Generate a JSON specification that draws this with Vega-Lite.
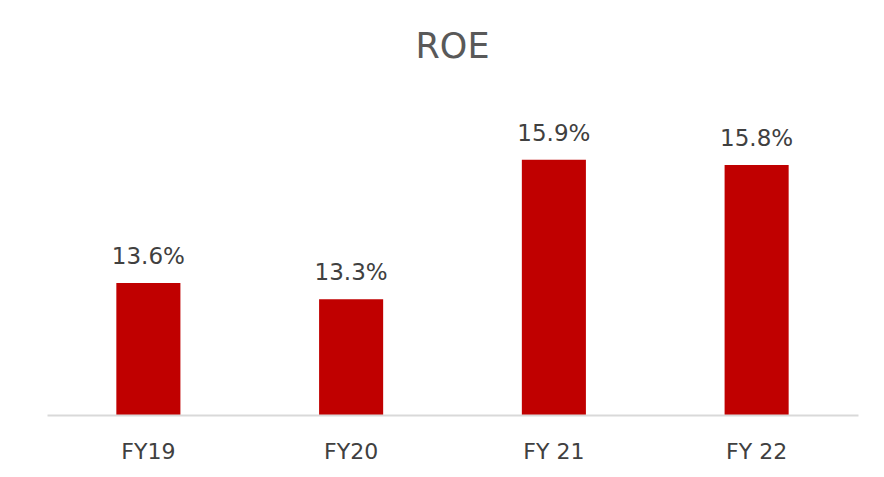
{
  "$schema": "https://vega.github.io/schema/vega-lite/v6.json",
  "width": 811,
  "height": 318,
  "autosize": {"type": "none"},
  "padding": {"left": 47, "top": 97, "right": 26, "bottom": 62},
  "background": "white",
  "title": {"text": "ROE", "fontSize": 35, "font": "DejaVu Sans", "fontWeight": "normal", "color": "#595959", "anchor": "middle", "offset": 32},
  "data": {"values": [
    {"year": "FY19", "roe": 13.6, "label": "13.6%"},
    {"year": "FY20", "roe": 13.3, "label": "13.3%"},
    {"year": "FY 21", "roe": 15.9, "label": "15.9%"},
    {"year": "FY 22", "roe": 15.8, "label": "15.8%"}
  ]},
  "encoding": {
    "x": {"field": "year", "type": "nominal", "sort": null,
      "scale": {"paddingInner": 0.684, "paddingOuter": 0.342},
      "axis": {"title": null, "labelAngle": 0, "ticks": false, "labelFont": "DejaVu Sans", "labelFontSize": 22, "labelColor": "#404040", "labelPadding": 26, "domainColor": "#d9d9d9", "domainWidth": 2, "zindex": 1}},
    "y": {"field": "roe", "type": "quantitative", "scale": {"domain": [11.14, 17.07], "zero": false, "nice": false}, "axis": null}
  },
  "layer": [
    {"mark": {"type": "bar", "color": "#C00000"}, "encoding": {"y2": {"datum": 11.14}}},
    {"mark": {"type": "text", "baseline": "alphabetic", "dy": -19, "font": "DejaVu Sans", "fontSize": 23, "color": "#404040"},
     "encoding": {"text": {"field": "label"}}}
  ],
  "config": {"view": {"stroke": null}}
}
